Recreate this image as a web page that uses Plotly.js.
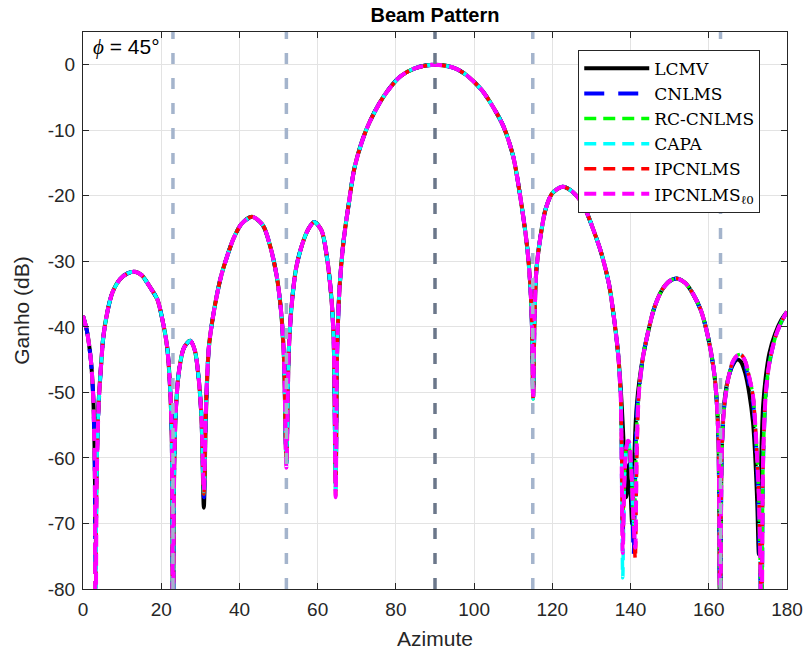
<!DOCTYPE html>
<html>
<head>
<meta charset="utf-8">
<script src="https://cdn.plot.ly/plotly-3.0.1.min.js"></script>
<style>html,body{margin:0;padding:0;background:#fff;}#chart{width:806px;height:655px;}</style>
</head>
<body>
<div id="chart"></div>
<script>
// Azimuth samples (degrees)
const azimute = [
  0, 1, 2, 2.6, 3.0, 3.2, 3.5, 4.0, 4.6, 5.2,
  6.2, 7.5, 9.5, 11.5, 13.3, 15, 17, 19, 20.5, 21.5,
  22.2, 22.7, 23.0, 23.3, 23.8, 24.6, 25.8, 27.4, 28.6, 29.6,
  30.3, 30.9, 31.4, 32.2, 33.5, 35.2, 36.7, 38.5, 40.5, 43.2,
  46, 48, 49.6, 50.7, 51.4, 52.0, 52.6, 53.3, 54.5, 56,
  57.5, 59.1, 61, 62.4, 63.5, 64.1, 64.6, 65.0, 65.6, 66.6,
  68, 69.5, 72.5, 76.8, 81.1, 85, 90, 95, 98.1, 102,
  105, 107.5, 110, 112.2, 113.6, 114.4, 114.8, 115.1, 115.4, 115.9,
  116.9, 118.3, 120, 122.6, 125, 128, 130.5, 132.5, 134.5, 135.8,
  136.8, 137.5, 138.0, 138.4, 138.9, 139.3, 139.6, 140.0, 140.4, 140.8,
  141.2, 141.6, 142.2, 143.2, 144.4, 146, 148, 150, 151.8, 154,
  156, 158, 159.8, 161.2, 162.0, 162.5, 162.9, 163.3, 163.9, 164.8,
  166, 167.2, 168.2, 169.3, 170.4, 171.3, 171.9, 172.4, 172.8, 173.2,
  173.5, 173.9, 174.6, 175.5, 177, 178.5, 180
];

const lcmv = [
  -38.3, -40.6, -45.0, -50.5, -60, -72, -60, -51.5, -46, -41.5,
  -37.8, -34.8, -32.7, -31.8, -31.6, -32.1, -33.8, -35.8, -39.5, -43,
  -48.5, -57, -88, -62, -52, -46.5, -43.2, -42.1, -43.6, -48,
  -54, -67.6, -54, -43, -37.5, -32.5, -29.5, -26.5, -24.3, -23.2,
  -24.5, -28, -32.5, -38, -45, -60.4, -44, -37, -31, -27.5,
  -25.2, -24.0, -25.3, -29.5, -35.5, -42, -63, -43, -34, -27,
  -21, -15.5, -9.8, -4.9, -1.8, -0.5, 0, -0.5, -1.6, -3.9,
  -6.6, -9.4, -14, -21.7, -28, -34, -40, -50.7, -40, -31.5,
  -26.5, -22, -19.6, -18.6, -19.3, -21.5, -25.2, -28.7, -33.5, -38.8,
  -44, -49.5, -55, -60, -66, -63, -61, -65, -70, -63,
  -56, -52, -48.5, -44.5, -41, -37.2, -34.4, -33, -32.6, -33.3,
  -35, -37.5, -41.5, -46.2, -51, -58, -88, -59, -52, -48.3,
  -46, -45, -45.3, -47, -50.3, -54.5, -60, -67, -74.7, -66,
  -58, -52, -47.5, -44, -41, -39, -37.7
];

const cnlms = [
  -38.3, -40.6, -45.0, -50.5, -61, -77, -62, -52, -46, -41.5,
  -37.8, -34.8, -32.7, -31.8, -31.6, -32.1, -33.8, -35.8, -39.5, -43,
  -48.5, -57, -95, -62, -52, -46.5, -43.2, -42.1, -43.6, -48,
  -54, -66, -53, -43, -37.5, -32.5, -29.5, -26.5, -24.3, -23.2,
  -24.5, -28, -32.5, -38, -45, -60.8, -44, -37, -31, -27.5,
  -25.2, -24.0, -25.3, -29.5, -35.5, -42, -64, -43, -34, -27,
  -21, -15.5, -9.8, -4.9, -1.8, -0.5, 0, -0.5, -1.6, -3.9,
  -6.6, -9.4, -14, -21.7, -28, -34, -40, -51, -40, -31.5,
  -26.5, -22, -19.6, -18.6, -19.3, -21.5, -25.2, -28.7, -33.5, -38.8,
  -44, -51, -72, -63, -58.5, -57.6, -58, -61, -66, -74.8,
  -62, -53, -49.5, -44.5, -41, -37.2, -34.4, -33, -32.6, -33.3,
  -35, -37.5, -41.5, -46.2, -51, -58, -95, -60, -52.5, -48.5,
  -45.8, -44.6, -44.5, -45.8, -48.8, -51.5, -56, -62, -69, -79,
  -82, -60, -50, -45.5, -41.6, -39.3, -37.7
];

const rcCnlms = [
  -38.3, -40.6, -45.0, -50.5, -62, -88, -63, -52, -46, -41.5,
  -37.8, -34.8, -32.7, -31.8, -31.6, -32.1, -33.8, -35.8, -39.5, -43,
  -48.5, -57, -95, -62, -52, -46.5, -43.2, -42.1, -43.6, -48,
  -54, -65.5, -53, -43, -37.5, -32.5, -29.5, -26.5, -24.3, -23.2,
  -24.5, -28, -32.5, -38, -45, -61, -44, -37, -31, -27.5,
  -25.2, -24.0, -25.3, -29.5, -35.5, -42, -65, -43, -34, -27,
  -21, -15.5, -9.8, -4.9, -1.8, -0.5, 0, -0.5, -1.6, -3.9,
  -6.6, -9.4, -14, -21.7, -28, -34, -40, -51, -40, -31.5,
  -26.5, -22, -19.6, -18.6, -19.3, -21.5, -25.2, -28.7, -33.5, -38.8,
  -44, -51, -70, -63, -58.5, -57.8, -58, -61, -65, -70.5,
  -64, -55, -49.5, -44.5, -41, -37.2, -34.4, -33, -32.6, -33.3,
  -35, -37.5, -41.5, -46.2, -51, -58, -95, -60, -52.5, -48.5,
  -45.5, -44.4, -44.2, -45.2, -47.8, -50.5, -55, -60.5, -66, -78,
  -90, -60, -50, -45.5, -41.6, -39.3, -37.7
];

const capa = [
  -38.3, -40.6, -45.0, -50.5, -62, -90, -63, -52, -46, -41.5,
  -37.8, -34.8, -32.7, -31.8, -31.6, -32.1, -33.8, -35.8, -39.5, -43,
  -48.5, -57, -95, -62, -52, -46.5, -43.2, -42.1, -43.6, -48,
  -54, -65.5, -53, -43, -37.5, -32.5, -29.5, -26.5, -24.3, -23.2,
  -24.5, -28, -32.5, -38, -45, -61, -44, -37, -31, -27.5,
  -25.2, -24.0, -25.3, -29.5, -35.5, -42, -65.5, -43, -34, -27,
  -21, -15.5, -9.8, -4.9, -1.8, -0.5, 0, -0.5, -1.6, -3.9,
  -6.6, -9.4, -14, -21.7, -28, -34, -40, -51, -40, -31.5,
  -26.5, -22, -19.6, -18.6, -19.3, -21.5, -25.2, -28.7, -33.5, -38.8,
  -44, -51, -78.3, -64, -58.5, -57.5, -57.8, -60.5, -64.5, -70,
  -68, -57, -49.5, -44.5, -41, -37.2, -34.4, -33, -32.6, -33.3,
  -35, -37.5, -41.5, -46.2, -51, -58, -95, -60, -52.5, -48.5,
  -45.5, -44.4, -44.2, -45.2, -47.8, -50.5, -55, -60.5, -66, -80,
  -92, -60, -50, -45.5, -41.6, -39.3, -37.7
];

const ipcnlms = [
  -38.3, -40.6, -45.0, -50.5, -62, -92, -63, -52, -46, -41.5,
  -37.8, -34.8, -32.7, -31.8, -31.6, -32.1, -33.8, -35.8, -39.5, -43,
  -48.5, -57, -95, -62, -52, -46.5, -43.2, -42.1, -43.6, -48,
  -54, -65.5, -53, -43, -37.5, -32.5, -29.5, -26.5, -24.3, -23.2,
  -24.5, -28, -32.5, -38, -45, -61, -44, -37, -31, -27.5,
  -25.2, -24.0, -25.3, -29.5, -35.5, -42, -65.8, -43, -34, -27,
  -21, -15.5, -9.8, -4.9, -1.8, -0.5, 0, -0.5, -1.6, -3.9,
  -6.6, -9.4, -14, -21.7, -28, -34, -40, -51, -40, -31.5,
  -26.5, -22, -19.6, -18.6, -19.3, -21.5, -25.2, -28.7, -33.5, -38.8,
  -44, -51, -72, -63, -58.5, -57.5, -57.8, -60.5, -64.5, -70,
  -75.4, -60, -49.5, -44.5, -41, -37.2, -34.4, -33, -32.6, -33.3,
  -35, -37.5, -41.5, -46.2, -51, -58, -95, -60, -52.5, -48.5,
  -45.5, -44.4, -44.2, -45.2, -47.8, -50.5, -55, -60.5, -66, -78,
  -92, -60, -50, -45.5, -41.6, -39.3, -37.7
];

const ipcnlmsL0 = [
  -38.3, -40.6, -45.0, -50.5, -62, -95, -64, -52, -46, -41.5,
  -37.8, -34.8, -32.7, -31.8, -31.6, -32.1, -33.8, -35.8, -39.5, -43,
  -48.5, -57, -95, -62, -52, -46.5, -43.2, -42.1, -43.6, -48,
  -54, -65, -53, -43, -37.5, -32.5, -29.5, -26.5, -24.3, -23.2,
  -24.5, -28, -32.5, -38, -45, -61.5, -44, -37, -31, -27.5,
  -25.2, -24.0, -25.3, -29.5, -35.5, -42, -66, -43, -34, -27,
  -21, -15.5, -9.8, -4.9, -1.8, -0.5, 0, -0.5, -1.6, -3.9,
  -6.6, -9.4, -14, -21.7, -28, -34, -40, -51, -40, -31.5,
  -26.5, -22, -19.6, -18.6, -19.3, -21.5, -25.2, -28.7, -33.5, -38.8,
  -44, -51, -74.5, -64, -58.5, -57.4, -57.5, -60, -64, -70,
  -73.7, -58, -49.5, -44.5, -41, -37.2, -34.4, -33, -32.6, -33.3,
  -35, -37.5, -41.5, -46.2, -51, -58, -95, -60, -52.5, -48.5,
  -45.5, -44.4, -44.2, -45.2, -47.8, -50.5, -55, -60.5, -66, -76,
  -95, -60, -50, -45.5, -41.6, -39.3, -37.7
];

// Directions marked with vertical dashed lines
const interfererAngles = [23, 52, 115, 163];
const desiredAngle = [90];

const seriesNames = ['LCMV', 'CNLMS', 'RC-CNLMS', 'CAPA', 'IPCNLMS', 'IPCNLMS<sub>ℓ0</sub>'];
const xTicks = [0, 20, 40, 60, 80, 100, 120, 140, 160, 180];
const yTicks = [0, -10, -20, -30, -40, -50, -60, -70, -80];

const seriesData = [lcmv, cnlms, rcCnlms, capa, ipcnlms, ipcnlmsL0];
const styles = [
  {color: '#000000', width: 4, dash: 'solid'},
  {color: '#0000ff', width: 4, dash: '20px,14px'},
  {color: '#00ff00', width: 3.5, dash: '12px,7px'},
  {color: '#00ffff', width: 3.5, dash: '12px,7px'},
  {color: '#ff0000', width: 3.5, dash: '12px,7px'},
  {color: '#ff00ff', width: 4, dash: '12px,7px'}
];

const traces = seriesData.map((ys, i) => ({
  type: 'scatter',
  mode: 'lines',
  x: azimute,
  y: ys,
  name: seriesNames[i],
  line: Object.assign({shape: 'spline', smoothing: 0.8}, styles[i]),
  hoverinfo: 'skip'
}));

const shapes = [];
interfererAngles.forEach(a => shapes.push({
  type: 'line', xref: 'x', yref: 'paper', x0: a, x1: a, y0: 0, y1: 1,
  layer: 'above', line: {color: '#a4b4cc', width: 3.5, dash: '11px,14px'}
}));
desiredAngle.forEach(a => shapes.push({
  type: 'line', xref: 'x', yref: 'paper', x0: a, x1: a, y0: 0, y1: 1,
  layer: 'above', line: {color: '#6b778a', width: 3.5, dash: '11px,14px'}
}));

const sans = 'Liberation Sans, Arial, sans-serif';
const axisCommon = {
  showline: true, linecolor: '#262626', linewidth: 1, mirror: 'ticks',
  ticks: 'inside', ticklen: 6, tickcolor: '#262626', tickwidth: 1,
  showgrid: true, gridcolor: '#e3e3e3', gridwidth: 1, zeroline: false,
  tickfont: {family: sans, size: 19, color: '#262626'}
};

const layout = {
  width: 806, height: 655,
  margin: {l: 83, r: 19, t: 32, b: 66},
  paper_bgcolor: '#ffffff', plot_bgcolor: '#ffffff',
  title: {
    text: '<b>Beam Pattern</b>',
    font: {family: sans, size: 20, color: '#000'},
    xref: 'paper', x: 0.5, xanchor: 'center',
    yref: 'container', y: 0.977, yanchor: 'middle'
  },
  xaxis: Object.assign({}, axisCommon, {
    range: [0, 180], tickvals: xTicks, ticktext: xTicks.map(String),
    ticklabelstandoff: 3,
    title: {text: 'Azimute', font: {family: sans, size: 21, color: '#262626'}, standoff: 12}
  }),
  yaxis: Object.assign({}, axisCommon, {
    range: [-80, 5], tickvals: yTicks, ticktext: yTicks.map(String),
    ticklabelstandoff: 3,
    title: {text: 'Ganho (dB)', font: {family: sans, size: 21, color: '#262626'}, standoff: 12}
  }),
  legend: {
    x: 0.962, y: 0.968, xanchor: 'right', yanchor: 'top',
    bgcolor: '#ffffff', bordercolor: '#262626', borderwidth: 1,
    font: {family: 'DejaVu Serif, Liberation Serif, serif', size: 17, color: '#000'},
    tracegroupgap: 0, itemwidth: 65
  },
  showlegend: true,
  shapes: shapes,
  annotations: [{
    xref: 'paper', yref: 'paper', x: 0.011, y: 0.998, xanchor: 'left', yanchor: 'top',
    text: '<span style="font-family:Liberation Serif;font-style:italic">ϕ</span> = 45°',
    showarrow: false,
    font: {family: sans, size: 21, color: '#000'}
  }]
};

Plotly.newPlot('chart', traces, layout, {displayModeBar: false, staticPlot: true});
</script>
</body>
</html>
